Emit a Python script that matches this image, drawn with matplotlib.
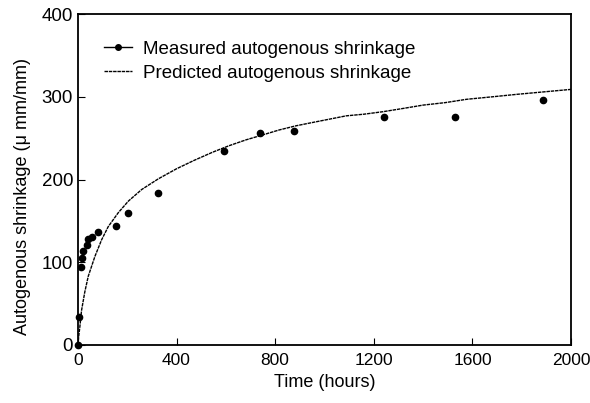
import matplotlib
matplotlib.use("Agg")
import matplotlib.pyplot as plt

# measured points
t_meas = [0, 4, 12, 15, 20, 35, 42, 58, 83, 156, 205, 323, 593, 738, 878, 1240, 1528, 1886]
s_meas = [0, 34, 94, 105, 114, 121, 128, 131, 136, 144, 160, 184, 234, 256, 259, 276, 275, 296]

# predicted curve
t_pred = [0, 4, 8, 15, 28, 42, 69, 96, 123, 164, 205, 259, 327, 400, 470, 546,
          614, 682, 750, 817, 885, 952, 1020, 1088, 1160, 1237, 1320, 1400, 1490,
          1576, 1680, 1780, 1890, 2000]
s_pred = [0, 12, 22, 42, 64, 83, 107, 127, 143, 160, 174, 188, 201, 213, 223, 233,
          241, 248, 254, 260, 265, 269, 273, 277, 279, 282, 286, 290, 293,
          297, 300, 303, 306, 309]

plt.rcParams['font.family'] = ['Liberation Sans', 'DejaVu Sans']
fig = plt.figure(figsize=(5.9, 4.03), dpi=100)
ax = fig.add_axes([0.132, 0.144, 0.836, 0.821])

ax.plot(t_meas, s_meas, 'o', color='black', markersize=4.5, clip_on=False,
        label='Measured autogenous shrinkage')
ax.plot(t_pred, s_pred, color='black', linewidth=1.0, linestyle=(0, (2.5, 0.6)),
        label='Predicted autogenous shrinkage')

ax.set_xlim(0, 2000)
ax.set_ylim(0, 400)
ax.set_xticks([0, 400, 800, 1200, 1600, 2000])
ax.set_yticks([0, 100, 200, 300, 400])
ax.tick_params(direction='in', length=5, labelsize=13.5, colors='black')
ax.tick_params(axis='x', pad=6, labelsize=12.5)
for sp in ax.spines.values():
    sp.set_linewidth(1.3)

ax.set_xlabel('Time (hours)', fontsize=13)
ax.set_ylabel('Autogenous shrinkage (μ mm/mm)', fontsize=13)
ax.yaxis.set_label_coords(-0.095, 0.45)

h1 = plt.Line2D([], [], color='black', marker='o', markersize=4, linewidth=1.0)
h2 = plt.Line2D([], [], color='black', linewidth=1.0, linestyle=(0, (2.5, 0.6)))
ax.legend([h1, h2], ['Measured autogenous shrinkage', 'Predicted autogenous shrinkage'],
          loc='upper left', bbox_to_anchor=(0.018, 0.97), frameon=False, fontsize=13.5,
          handlelength=1.5, handletextpad=0.6, labelspacing=0.35)

fig.savefig('out.png', dpi=100)
